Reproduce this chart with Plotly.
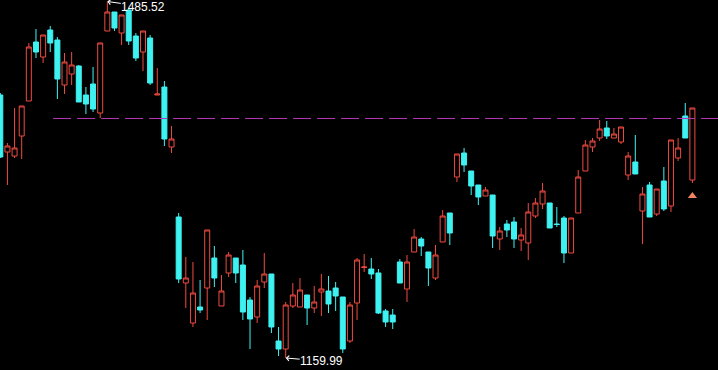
import plotly.graph_objects as go

opens = [1400.14, 1348.09, 1344.44, 1362.70, 1394.66, 1448.54, 1434.84, 1459.50, 1450.36, 1409.27,
         1419.32, 1426.62, 1400.14, 1410.19, 1383.71, 1458.58, 1475.93, 1456.76, 1477.76, 1454.02,
         1439.41, 1452.19, 1400.14, 1407.45, 1352.66, 1288.74, 1228.47, 1191.95, 1206.56, 1223.91,
         1251.30, 1207.47, 1237.61, 1251.30, 1244.91, 1212.95, 1197.43, 1229.39, 1236.69, 1175.51,
         1168.21, 1207.47, 1206.56, 1217.52, 1205.65, 1220.26, 1221.17, 1223.91, 1215.69, 1175.51,
         1210.21, 1242.63, 1241.26, 1237.61, 1202.91, 1199.25, 1247.65, 1223.00, 1256.78, 1268.65,
         1256.78, 1233.04, 1265.91, 1292.39, 1325.27, 1347.18, 1330.74, 1317.96, 1307.92, 1308.83,
         1268.65, 1282.35, 1284.18, 1267.74, 1265.00, 1289.65, 1300.61, 1301.52, 1282.35, 1287.83,
         1255.87, 1292.39, 1330.74, 1352.66, 1360.88, 1370.01, 1360.88, 1357.23, 1327.09, 1338.96,
         1294.22, 1317.96, 1291.48, 1321.61, 1298.79, 1342.62, 1380.97, 1322.53]
highs = [1401.97, 1356.31, 1388.27, 1390.10, 1447.63, 1460.41, 1454.93, 1463.15, 1453.10, 1438.49,
         1439.41, 1427.54, 1407.45, 1425.71, 1447.63, 1485.52, 1475.93, 1473.19, 1479.58, 1456.76,
         1458.58, 1454.93, 1424.80, 1412.93, 1371.84, 1292.39, 1252.22, 1247.65, 1231.21, 1276.87,
         1262.26, 1235.78, 1256.78, 1251.30, 1258.61, 1215.69, 1231.21, 1255.87, 1236.69, 1188.30,
         1211.12, 1228.47, 1233.04, 1217.52, 1225.73, 1236.69, 1234.87, 1229.39, 1215.69, 1211.12,
         1251.30, 1254.95, 1251.30, 1241.26, 1204.73, 1204.73, 1250.39, 1254.04, 1277.78, 1270.48,
         1256.78, 1263.17, 1295.13, 1292.39, 1346.27, 1351.75, 1330.74, 1317.96, 1316.13, 1308.83,
         1279.61, 1286.00, 1288.74, 1278.70, 1301.52, 1306.09, 1319.79, 1301.52, 1297.87, 1289.65,
         1287.83, 1331.66, 1359.05, 1360.88, 1377.31, 1376.40, 1370.01, 1370.92, 1348.09, 1363.62,
         1316.13, 1320.70, 1314.31, 1334.40, 1359.05, 1360.88, 1392.84, 1388.27]
lows = [1342.62, 1317.96, 1342.62, 1341.70, 1394.66, 1433.93, 1429.36, 1439.41, 1396.49, 1401.06,
        1409.27, 1393.75, 1382.79, 1384.62, 1379.14, 1458.58, 1458.58, 1445.80, 1445.80, 1431.19,
        1422.06, 1409.27, 1400.14, 1353.57, 1347.18, 1228.47, 1205.65, 1188.30, 1201.08, 1194.69,
        1224.82, 1207.47, 1233.95, 1228.47, 1194.69, 1168.21, 1191.95, 1223.91, 1182.82, 1161.82,
        1159.99, 1205.65, 1206.56, 1190.12, 1201.08, 1198.34, 1201.08, 1202.91, 1164.56, 1173.69,
        1194.69, 1238.52, 1232.13, 1200.17, 1188.30, 1186.47, 1228.47, 1211.12, 1256.78, 1253.13,
        1225.73, 1231.21, 1265.91, 1263.17, 1320.70, 1329.83, 1308.83, 1299.70, 1307.92, 1260.43,
        1258.61, 1270.48, 1260.43, 1257.69, 1249.48, 1287.83, 1296.05, 1278.70, 1279.61, 1246.74,
        1255.87, 1292.39, 1330.74, 1348.09, 1358.14, 1359.96, 1360.88, 1355.40, 1322.53, 1328.01,
        1264.09, 1288.74, 1289.65, 1294.22, 1293.31, 1339.88, 1360.88, 1319.79]
closes = [1343.53, 1353.57, 1351.75, 1390.10, 1443.97, 1439.41, 1454.93, 1447.63, 1414.75, 1430.28,
          1427.54, 1393.75, 1391.92, 1387.36, 1447.63, 1475.93, 1461.32, 1473.19, 1449.45, 1433.93,
          1458.58, 1411.10, 1401.06, 1359.96, 1359.96, 1232.13, 1233.04, 1219.34, 1203.82, 1276.87,
          1233.04, 1221.17, 1254.04, 1237.61, 1201.99, 1195.60, 1225.73, 1236.69, 1188.30, 1168.21,
          1208.39, 1217.52, 1222.08, 1205.65, 1211.12, 1223.00, 1209.30, 1216.60, 1168.21, 1208.39,
          1249.48, 1243.08, 1236.69, 1201.08, 1192.86, 1192.86, 1228.47, 1247.65, 1270.48, 1262.26,
          1242.17, 1254.04, 1289.65, 1274.13, 1346.27, 1336.22, 1317.05, 1307.00, 1313.40, 1271.39,
          1275.96, 1276.87, 1268.65, 1272.30, 1293.31, 1301.52, 1312.48, 1278.70, 1281.89, 1255.87,
          1287.83, 1325.27, 1354.49, 1358.14, 1369.10, 1362.70, 1364.53, 1370.92, 1344.44, 1328.01,
          1309.74, 1288.74, 1314.31, 1296.05, 1359.05, 1351.75, 1360.88, 1388.27]

x_idx = list(range(len(opens)))

ref_level = 1378.7
ref_start = 7.4
high_label = "1485.52"
low_label = "1159.99"
signal_idx = 97
signal_price = 1307.9

UP_COLOR = "#f04a40"
DOWN_COLOR = "#3ff2f2"

fig = go.Figure()
fig.add_trace(go.Candlestick(
    x=x_idx, open=opens, high=highs, low=lows, close=closes,
    increasing=dict(line=dict(color=UP_COLOR, width=1), fillcolor="#000000"),
    decreasing=dict(line=dict(color=DOWN_COLOR, width=1), fillcolor=DOWN_COLOR),
    whiskerwidth=0, hoverinfo="skip", showlegend=False,
))

fig.add_trace(go.Scatter(
    x=[signal_idx], y=[signal_price], mode="markers",
    marker=dict(symbol="triangle-up", size=8, color="#f08462", line=dict(width=0)),
    hoverinfo="skip", showlegend=False,
))

hi_i = highs.index(max(highs))
lo_i = lows.index(min(lows))

fig.add_shape(type="line", xref="x", yref="y", x0=ref_start, x1=101, y0=ref_level, y1=ref_level,
              line=dict(color="#b838b8", width=1, dash="18px,6px"))

for i, val, txt, ay in [(hi_i, highs[hi_i], high_label, 5), (lo_i, lows[lo_i], low_label, 3)]:
    fig.add_annotation(x=i, y=val, xref="x", yref="y", text=txt, showarrow=True,
                       ax=36, ay=ay, arrowhead=4, arrowsize=1, arrowwidth=1, arrowcolor="#ffffff",
                       standoff=0, startstandoff=0, borderpad=0,
                       font=dict(family="Liberation Sans, Arial", size=12, color="#ffffff"))

fig.update_layout(
    width=718, height=370, margin=dict(l=0, r=0, t=0, b=0),
    paper_bgcolor="#000000", plot_bgcolor="#000000",
    boxgap=0.3, boxgroupgap=0,
    xaxis=dict(visible=False, range=[-0.042, 100.59], rangeslider=dict(visible=False), showgrid=False),
    yaxis=dict(visible=False, range=[1149.03, 1486.89], showgrid=False),
    hovermode=False, showlegend=False,
)

fig.write_html("out.html")
